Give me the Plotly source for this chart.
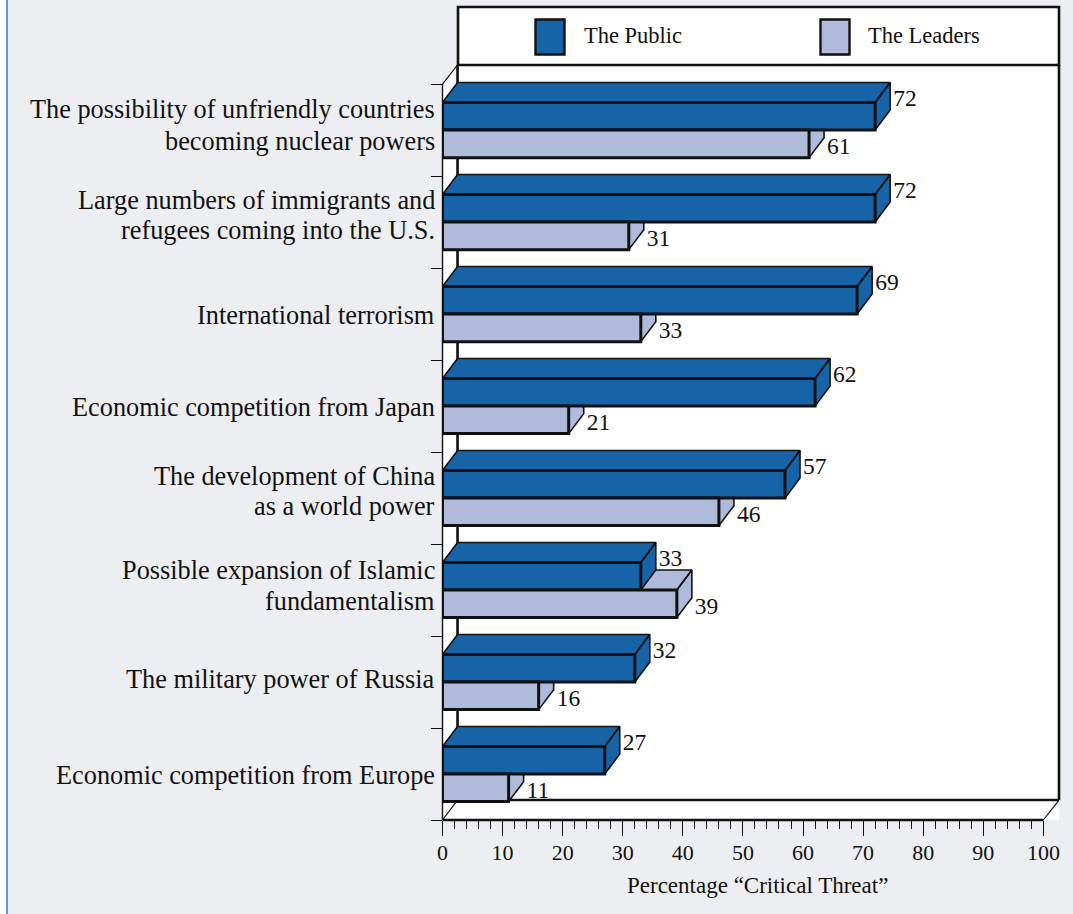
import plotly.graph_objects as go

categories = [
    "The possibility of unfriendly countries<br>becoming nuclear powers",
    "Large numbers of immigrants and<br>refugees coming into the U.S.",
    "International terrorism",
    "Economic competition from Japan",
    "The development of China<br>as a world power",
    "Possible expansion of Islamic<br>fundamentalism",
    "The military power of Russia",
    "Economic competition from Europe",
]
public = [72, 72, 69, 62, 57, 33, 32, 27]
leaders = [61, 31, 33, 21, 46, 39, 16, 11]
x_ticks = list(range(0, 101, 10))
x_title = "Percentage “Critical Threat”"
series_names = ["The Public", "The Leaders"]

W, H = 1073, 914
PUB, LEAD, BG, INK = "#1763a8", "#b0bbdc", "#edeef1", "#111111"
FONT = "Liberation Serif"
# plot frame in pixels
L, R, T, B = 442.5, 1059.0, 65.0, 820.0
DX, DY = 2.5, 0.217          # depth of the 3-D effect, in data units
BAR = 0.3                    # bar thickness, in data units
XMAX, YMAX = 102.6, 8.207
label_px = [125.5, 215.5, 315, 408, 491.5, 585.5, 679, 775]  # label centres
LINE_GAP = 31                # pixels between the two lines of a label

n = len(categories)
centers = [n - 0.5 - i for i in range(n)]


def xp(v):
    return (L + v / XMAX * (R - L)) / W


def yp(v):
    return 1 - (B - v / YMAX * (B - T)) / H


def faces(values, lo):
    xs, ys = [], []
    for v, c in zip(values, centers):
        y0, y1 = c + lo, c + lo + BAR
        xs += [0, v, v + DX, DX, 0, None, v, v + DX, v + DX, v, v, None]
        ys += [y1, y1, y1 + DY, y1 + DY, y1, None, y0, y0 + DY, y1 + DY, y1, y0, None]
    return xs, ys


fig = go.Figure()
for vals, lo, col in [(leaders, -BAR, LEAD), (public, 0, PUB)]:
    fx, fy = faces(vals, lo)
    fig.add_trace(go.Scatter(x=fx, y=fy, mode="lines", fill="toself", fillcolor=col,
                             line=dict(color=INK, width=1.6), hoverinfo="skip", showlegend=False))

for name, vals, lo, col in [(series_names[0], public, 0, PUB), (series_names[1], leaders, -BAR, LEAD)]:
    fig.add_trace(go.Bar(x=vals, y=centers, orientation="h", name=name, width=BAR, offset=lo,
                         marker=dict(color=col, line=dict(color=INK, width=3)),
                         xaxis="x2", yaxis="y2", showlegend=False))

fig.add_trace(go.Scatter(
    x=[v + DX + 0.5 for v in public], y=[c + 0.325 for c in centers],
    mode="text", text=[str(v) for v in public], textposition="middle right",
    textfont=dict(family=FONT, size=23.5, color=INK), showlegend=False, cliponaxis=False,
    xaxis="x2", yaxis="y2"))
fig.add_trace(go.Scatter(
    x=[v + DX + 0.5 for v in leaders], y=[c - 0.2 for c in centers],
    mode="text", text=[str(v) for v in leaders], textposition="middle right",
    textfont=dict(family=FONT, size=23.5, color=INK), showlegend=False, cliponaxis=False,
    xaxis="x2", yaxis="y2"))

thick = dict(color=INK, width=2.6)
thin = dict(color=INK, width=1.2)


def rect(x0, y0, x1, y1, fill="rgba(0,0,0,0)", line=None, layer="below"):
    return dict(type="rect", xref="paper", yref="paper", x0=x0 / W, x1=x1 / W, y0=1 - y0 / H, y1=1 - y1 / H,
                fillcolor=fill, line=line or dict(width=0), layer=layer)


def seg(x0, y0, x1, y1, line, layer="below"):
    return dict(type="line", xref="paper", yref="paper", x0=x0, x1=x1, y0=y0, y1=y1, line=line, layer=layer)


shapes = [
    rect(0, 0, 6, H, fill="white"),
    rect(6, 0, 8, H, fill="#6a94c4"),
    # walls
    dict(type="path", xref="paper", yref="paper", layer="below", fillcolor="white", line=dict(width=0),
         path=f"M{xp(0)},{yp(8)} L{xp(DX)},{yp(YMAX)} L{xp(XMAX)},{yp(YMAX)} L{xp(XMAX)},{yp(0)} "
              f"L{xp(100)},{yp(0)} L{xp(0)},{yp(0)} Z"),
    rect(458, 7, 1059, 65, fill="white", line=thick),
    seg(xp(DX), yp(DY), xp(DX), yp(YMAX), thick),
    seg(xp(XMAX), yp(DY), xp(XMAX), yp(YMAX), thick),
    seg(xp(DX), yp(DY), xp(XMAX), yp(DY), thick),
    seg(xp(0), yp(0), xp(DX), yp(DY), thin),
    seg(xp(100), yp(0), xp(XMAX), yp(DY), thin),
    seg(xp(0), yp(8), xp(DX), yp(YMAX), thin),
    seg(xp(0), yp(0), xp(100), yp(0), thick, layer="above"),
    seg(xp(0), yp(0), xp(0), yp(8), dict(color=INK, width=1.4), layer="above"),
    # legend swatches
    rect(535.5, 19.5, 564.5, 54.5, fill=PUB, line=dict(color=INK, width=2.4)),
    rect(820.5, 19.5, 849.5, 54.5, fill=LEAD, line=dict(color=INK, width=2.4)),
]

annotations = []
for cat, py in zip(categories, label_px):
    lines = cat.split("<br>")
    for k, line in enumerate(lines):
        line_y = py + (k - (len(lines) - 1) / 2) * LINE_GAP
        annotations.append(dict(xref="paper", yref="paper", x=437 / W, y=1 - line_y / H, text=line,
                                showarrow=False, xanchor="right", yanchor="middle", align="right",
                                font=dict(family=FONT, size=26.3, color=INK)))
annotations += [
    dict(xref="paper", yref="paper", x=582 / W, y=1 - 36 / H, text=series_names[0], showarrow=False,
         xanchor="left", yanchor="middle", font=dict(family=FONT, size=22.5, color=INK)),
    dict(xref="paper", yref="paper", x=866 / W, y=1 - 36 / H, text=series_names[1], showarrow=False,
         xanchor="left", yanchor="middle", font=dict(family=FONT, size=22.5, color=INK)),
    dict(xref="paper", yref="paper", x=757 / W, y=1 - 885 / H, text=x_title, showarrow=False,
         xanchor="center", yanchor="middle", font=dict(family=FONT, size=23, color=INK)),
]

dom_x = [L / W, R / W]
dom_y = [1 - B / H, 1 - T / H]
fig.update_layout(
    width=W, height=H, margin=dict(l=0, r=0, t=0, b=0, pad=0, autoexpand=False),
    paper_bgcolor=BG, plot_bgcolor="rgba(0,0,0,0)", barmode="overlay",
    shapes=shapes, annotations=annotations, showlegend=False,
    xaxis=dict(domain=dom_x, range=[0, XMAX], tickvals=x_ticks, ticktext=[str(t) for t in x_ticks],
               ticks="outside", ticklen=15, tickwidth=1.4, tickcolor=INK, showgrid=False, zeroline=False,
               showline=False, tickangle=0, ticklabelstandoff=-2,
               tickfont=dict(family=FONT, size=22, color=INK),
               minor=dict(tickvals=[t for t in range(0, 101, 2)], ticks="outside", ticklen=8, tickwidth=1.2,
                          tickcolor=INK, showgrid=False)),
    yaxis=dict(domain=dom_y, range=[0, YMAX], tickvals=list(range(n + 1)), showticklabels=False,
               ticks="outside", ticklen=11, tickwidth=1.2, tickcolor=INK, showgrid=False, zeroline=False,
               showline=False),
    xaxis2=dict(domain=dom_x, range=[0, XMAX], overlaying="x", visible=False),
    yaxis2=dict(domain=dom_y, range=[0, YMAX], overlaying="y", visible=False),
)
fig.write_html("out.html", config=dict(displayModeBar=False),
               post_script="document.body.style.margin='0';")
